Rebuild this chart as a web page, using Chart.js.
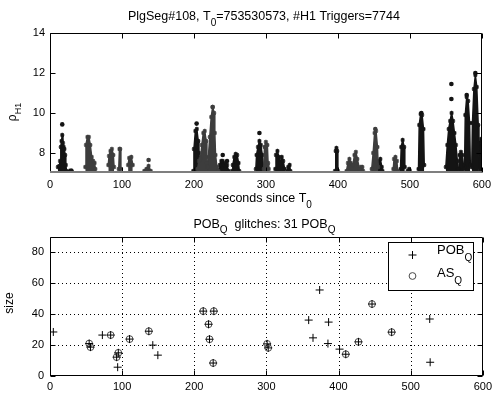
<!DOCTYPE html>
<html><head><meta charset="utf-8">
<script src="https://cdn.jsdelivr.net/npm/chart.js@4"></script>
<style>
html,body{margin:0;padding:0;background:#fff;}
#wrap{position:relative;width:496px;height:396px;overflow:hidden;background:#fff}
canvas{position:absolute;left:0;}
</style></head><body>
<div id="wrap">
<canvas id="topc" width="496" height="208" style="top:0;width:496px;height:208px"></canvas>
<canvas id="botc" width="496" height="188" style="top:208px;width:496px;height:188px"></canvas>
</div>
<script>
// ---------- data ----------
const topXTicks = [0,100,200,300,400,500,600];
const topYTicks = [8,10,12,14];
const botXTicks = [0,100,200,300,400,500,600];
const botYTicks = [0,20,40,60,80];

// trigger clusters: [time, rho] profile of each dense group of H1 triggers
const blackClusters = [
  [[11,7.3],[13,7.35],[14,7.6],[15,8.3],[16,8.6],[17,8.9],[18,8.5],[19,8.3],[20,8.2],[21,7.9],[22,7.4],[23,7.1]],
  [[28,7.12],[30,7.12]],
  [[199,7.1],[200,8.2],[202,9.1],[204,9.2],[206,8.6],[207,8.0],[208,7.3]],
  [[234,7.1],[236,7.4],[238,7.6],[240,7.6],[242,7.4],[244,7.5],[246,7.4],[248,7.1]],
  [[253,7.1],[254,7.4],[256,7.8],[258,7.95],[260,7.9],[262,7.5],[263,7.1]],
  [[286,7.2],[287,7.9],[289,8.3],[291,8.6],[293,8.4],[295,7.9],[297,7.2]],
  [[313,7.2],[314,7.9],[316,8.1],[318,7.8],[320,7.5],[322,7.8],[324,7.6],[326,7.2]],
  [[330,7.1],[331,7.3],[333,7.4],[334,7.1]],
  [[396,7.1],[397,8.1],[398,8.25],[399,8.1],[400,7.1]],
  [[456,7.1],[457,7.6],[459,7.7],[461,7.3],[462,7.1]],
  [[487,7.2],[488,8.3],[490,8.65],[492,8.3],[493,7.3]],
  [[497,7.1],[499,7.2],[500,7.1]],
  [[512,7.2],[513,9.4],[515,9.95],[517,9.9],[519,9.2],[520,7.4]],
  [[550,7.3],[552,8.4],[554,9.2],[556,9.6],[558,10.0],[560,9.6],[562,9.0],[564,8.4],[566,7.6],[567,7.2]],
  [[568,7.2],[569,7.9],[571,8.05],[573,7.9],[575,7.2]],
  [[576,7.3],[577,9.9],[579,10.8],[581,10.6],[583,9.5],[584,7.4]],
  [[586,7.3],[587,9.5],[589,11.2],[591,11.9],[593,11.3],[595,9.4],[596,8.0]],
  [[595,7.3],[597,8.5],[599,8.7],[600,8.6]]
];
const grayClusters = [
  [[49,7.3],[50,8.4],[52,8.8],[54,8.8],[56,8.4],[58,7.8],[60,7.6],[62,7.5],[63,7.2]],
  [[81,7.4],[82,7.85],[84,8.1],[86,8.2],[88,7.9],[89,7.3]],
  [[95.5,7.2],[96.5,8.2],[97.5,8.2],[98.5,7.2]],
  [[108.5,7.4],[110,7.75],[113,7.8],[115,7.4]],
  [[131,7.1],[134,7.2],[137,7.35],[140,7.1]],
  [[205,7.2],[207,7.6],[209,7.7],[211,8.4],[213,9.0],[215,9.1],[217,8.6],[218,7.5],[219,7.3]],
  [[218,7.3],[220,7.8],[222,8.8],[224,9.8],[226,10.3],[228,10.0],[229,9.0],[230,7.9],[232,7.3],[234,7.1]],
  [[297,7.2],[298,8.3],[300,8.55],[302,8.4],[303,7.5],[304,7.2]],
  [[412,7.1],[414,7.5],[416,7.7],[418,7.5],[421,7.4],[423,7.9],[425,8.05],[427,7.7],[430,7.2]],
  [[431,7.1],[432,7.3],[434,7.3],[435,7.1]],
  [[447,7.2],[449,8.0],[451,9.0],[453,9.1],[455,8.3],[456,7.3]],
  [[477,7.2],[478,7.7],[480,7.8],[482,7.6],[483,7.1]]
];
// isolated loud triggers [time, rho]
const blackDots = [[17,9.43],[203.7,9.47],[240,7.9],[246,7.6],[291,9.0],[557.7,11.45],[557.7,10.7],[591,12.0],[579,10.9],[516,10.0]];
const grayDots = [[137,7.65],[226,10.3],[452,9.2]];

// POB_Q glitches: time (s) and size
const pobTimes = [4.6,54.3,56.1,72.6,84.1,94.7,92.4,93.8,110.3,137,142.5,149.5,212.4,227.1,219.8,221.1,226.2,301,302.5,358.6,364.6,373.8,386.2,385.3,401.4,410,427.6,446.4,473.6,526.4,527];
const pobSizes = [28.5,21,18.7,26.5,26.5,15,12.2,5.7,23.9,29,20,13.5,42,42,33.5,23.8,8.4,20.8,18.2,36.2,24.7,55.7,34.9,21,17.4,14.1,22.1,46.6,28.4,36.9,8.9];
// AS_Q coincident glitches
const asTimes = [54.3,56.1,84.1,94.7,92.4,110.3,137,212.4,227.1,219.8,221.1,226.2,301,302.5,410,427.6,446.4,473.6];
const asSizes = [21,18.7,26.5,15,12.2,23.9,29,42,42,33.5,23.8,8.4,20.8,18.2,14.1,22.1,46.6,28.4];

// ---------- styling ----------
const FF = "'Liberation Sans', Arial, Helvetica, sans-serif";
Chart.defaults.font.family = FF;
Chart.defaults.color = '#000';
const BLACK = '#141414', GRAY = '#3d3d3d';

function drawRich(ctx, parts, x, y, align, size, subSize, subDy){
  let w = 0;
  const ws = parts.map(([t,s]) => { ctx.font = (s?subSize:size)+'px '+FF; const m = ctx.measureText(t).width; w += m; return m; });
  let cx = align === 'center' ? x - w/2 : x;
  ctx.textAlign = 'left'; ctx.textBaseline = 'alphabetic'; ctx.fillStyle = '#000';
  parts.forEach(([t,s],i) => { ctx.font = (s?subSize:size)+'px '+FF; ctx.fillText(t, cx, y + (s?subDy:0)); cx += ws[i]; });
}

function framePlugin(o){
  return {
    id: 'frame',
    beforeDatasetsDraw(chart){
      if(!o.grid) return;
      const {ctx, chartArea:a, scales:{x,y}} = chart;
      ctx.save(); ctx.strokeStyle = '#000'; ctx.lineWidth = 1; ctx.setLineDash([1,3]);
      o.xt.forEach(v => { const px = Math.round(x.getPixelForValue(v))+0.5; if(px<=a.left+1||px>=a.right-1) return;
        ctx.beginPath(); ctx.moveTo(px,a.top); ctx.lineTo(px,a.bottom); ctx.stroke(); });
      o.yt.forEach(v => { const py = Math.round(y.getPixelForValue(v))+0.5; if(py<=a.top+1||py>=a.bottom-1) return;
        ctx.beginPath(); ctx.moveTo(a.left,py); ctx.lineTo(a.right,py); ctx.stroke(); });
      ctx.restore();
    },
    afterDatasetsDraw(chart){
      const {ctx, chartArea:a, scales:{x,y}} = chart;
      ctx.save();
      if(o.legend) o.legend(ctx, chart);
      ctx.setLineDash([]); ctx.lineWidth = 1; ctx.strokeStyle = '#000';
      const L = Math.round(a.left)+0.5, R = Math.round(a.right)-0.5, T = Math.round(a.top)+0.5, B = Math.round(a.bottom)-0.5;
      ctx.beginPath(); ctx.moveTo(L,B); ctx.lineTo(L,T); ctx.lineTo(R,T); ctx.lineTo(R,B); ctx.stroke();
      ctx.beginPath();
      o.xt.forEach(v => { const px = Math.round(x.getPixelForValue(v))+0.5;
        ctx.moveTo(px,T); ctx.lineTo(px,T+5); ctx.moveTo(px,B); ctx.lineTo(px,B-5); });
      o.yt.forEach(v => { const py = Math.round(y.getPixelForValue(v))+0.5;
        ctx.moveTo(L,py); ctx.lineTo(L+5,py); ctx.moveTo(R,py); ctx.lineTo(R-5,py); });
      ctx.stroke();
      ctx.strokeStyle = o.bottomColor || '#000'; ctx.lineWidth = o.bottomWidth || 1;
      ctx.beginPath(); ctx.moveTo(a.left, o.bottomWidth===2 ? Math.round(a.bottom)-1 : B); ctx.lineTo(a.right, o.bottomWidth===2 ? Math.round(a.bottom)-1 : B); ctx.stroke();
      ctx.restore();
    },
    afterDraw(chart){
      const ctx = chart.ctx; ctx.save();
      o.texts(ctx, chart);
      ctx.restore();
    }
  };
}

function axisOpts(min, max, ticks, fit, pad){
  return {
    type: 'linear', min, max,
    afterBuildTicks: s => { s.ticks = ticks.map(v => ({value: v})); },
    afterFit: fit,
    ticks: {font: {size: 11}, color: '#000', padding: pad, autoSkip: false, maxRotation: 0},
    grid: {display: false, drawTicks: false},
    border: {display: false}
  };
}

// ---------- top chart ----------
const topSets = [];
function clusterSet(c, col){
  return {type:'line', data: c.map(([x,y]) => ({x,y})), fill: {value: 7},
    borderColor: col, backgroundColor: col, borderWidth: 1.5, tension: 0, borderJoinStyle: 'round',
    pointStyle: 'star', pointRadius: 2.2, pointBorderWidth: 1.2, pointBorderColor: col, pointBackgroundColor: col};
}
grayClusters.forEach(c => topSets.push(clusterSet(c, GRAY)));
blackClusters.forEach(c => topSets.push(clusterSet(c, BLACK)));
topSets.push({type:'scatter', data: grayDots.map(([x,y]) => ({x,y})), pointStyle: 'circle', pointRadius: 2.3, borderWidth: 0, backgroundColor: GRAY});
topSets.push({type:'scatter', data: blackDots.map(([x,y]) => ({x,y})), pointStyle: 'circle', pointRadius: 2.3, borderWidth: 0, backgroundColor: BLACK});

new Chart(document.getElementById('topc'), {
  type: 'scatter',
  data: {datasets: topSets},
  options: {
    responsive: false, animation: false, events: [],
    layout: {padding: {top: 33, right: 11, left: 0, bottom: 0}},
    plugins: {legend: {display: false}, tooltip: {enabled: false}},
    scales: {
      x: axisOpts(0, 600, topXTicks, s => { s.height = 35; }, 5),
      y: axisOpts(7, 14, topYTicks, s => { s.width = 50; }, 5)
    }
  },
  plugins: [framePlugin({xt: topXTicks, yt: topYTicks, grid: false, bottomColor: '#7f7f7f', bottomWidth: 2,
    texts(ctx, chart){
      const a = chart.chartArea, cx = (a.left + a.right)/2 - 2;
      drawRich(ctx, [['PlgSeg#108, T',0],['0',1],['=753530573, #H1 Triggers=7744',0]], cx, 20, 'center', 12.5, 10, 6);
      drawRich(ctx, [['seconds since T',0],['0',1]], cx, 202, 'center', 12.5, 10, 6);
      ctx.save(); ctx.translate(16, 112); ctx.rotate(-Math.PI/2);
      drawRich(ctx, [['\u03C1',0],['H1',1]], 0, 0, 'center', 12, 9, 5);
      ctx.restore();
    }})]
});

// ---------- bottom chart ----------
new Chart(document.getElementById('botc'), {
  type: 'scatter',
  data: {datasets: [
    {label: 'POB', data: pobTimes.map((t,i) => ({x: t, y: pobSizes[i]})), pointStyle: 'cross', pointRadius: 4,
      borderColor: '#000', borderWidth: 1, order: 0},
    {label: 'AS', data: asTimes.map((t,i) => ({x: t, y: asSizes[i]})), pointStyle: 'circle', pointRadius: 3.4,
      borderColor: '#4a4a4a', backgroundColor: 'rgba(0,0,0,0)', borderWidth: 1, order: 1}
  ]},
  options: {
    responsive: false, animation: false, events: [],
    layout: {padding: {top: 29, right: 11, left: 0, bottom: 0}},
    plugins: {legend: {display: false}, tooltip: {enabled: false}},
    scales: {
      x: axisOpts(0, 600, botXTicks, s => { s.height = 20; }, 4),
      y: axisOpts(0, 90, botYTicks, s => { s.width = 50; }, 6)
    }
  },
  plugins: [framePlugin({xt: botXTicks, yt: botYTicks, grid: true,
    legend(ctx, chart){
      ctx.setLineDash([]);
      ctx.fillStyle = '#fff'; ctx.fillRect(388, 34, 86, 49);
      ctx.strokeStyle = '#000'; ctx.lineWidth = 1; ctx.strokeRect(388.5, 34.5, 85, 48);
      ctx.beginPath(); ctx.moveTo(408.5, 47); ctx.lineTo(416.5, 47); ctx.moveTo(412.5, 43); ctx.lineTo(412.5, 51); ctx.stroke();
      ctx.strokeStyle = '#4a4a4a'; ctx.beginPath(); ctx.arc(412.5, 68, 3.4, 0, Math.PI*2); ctx.stroke();
      drawRich(ctx, [['POB',0],['Q',1]], 437, 46, 'left', 13, 10, 7);
      drawRich(ctx, [['AS',0],['Q',1]], 437, 69, 'left', 13, 10, 7);
    },
    texts(ctx, chart){
      const a = chart.chartArea, cx = (a.left + a.right)/2 - 2;
      drawRich(ctx, [['POB',0],['Q',1],['  glitches: 31 POB',0],['Q',1]], cx, 20, 'center', 12.5, 10, 5);
      ctx.save(); ctx.translate(13, 95); ctx.rotate(-Math.PI/2);
      drawRich(ctx, [['size',0]], 0, 0, 'center', 12, 10, 5);
      ctx.restore();
    }})]
});
</script>
</body></html>
